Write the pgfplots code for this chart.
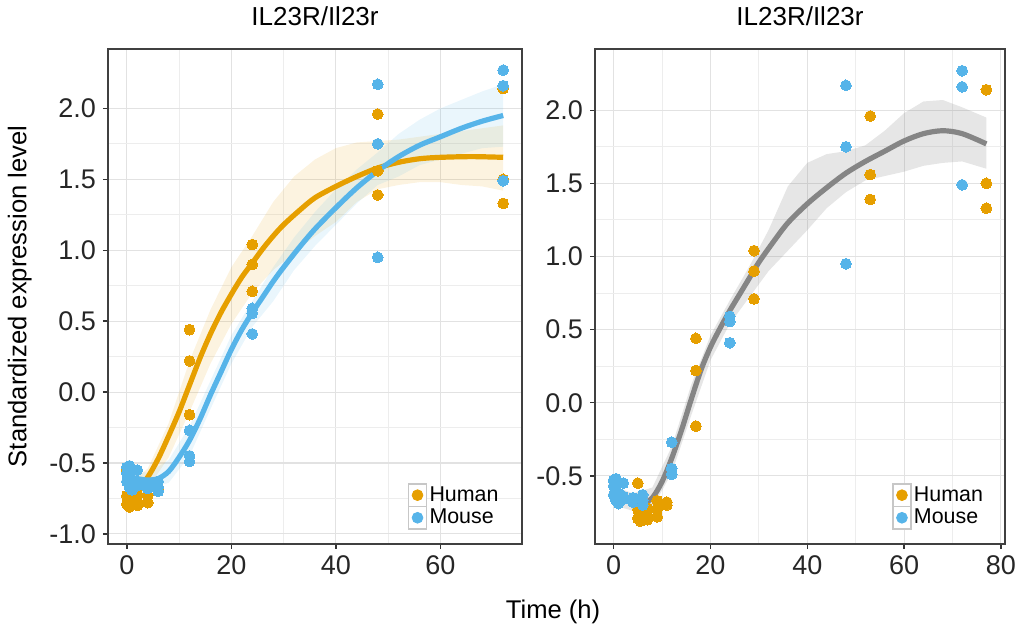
\documentclass[border=0pt]{standalone}
\usepackage{pgfplots}
\usepackage{pgfplotstable}
\pgfplotsset{compat=1.18}
\usepackage{fontspec}
\setmainfont{Liberation Sans}
\definecolor{human}{HTML}{E69F00}
\definecolor{mouse}{HTML}{56B4E9}
\definecolor{smoothgray}{HTML}{858585}
\definecolor{gridmaj}{HTML}{E2E2E2}
\definecolor{gridmin}{HTML}{EDEDED}

\pgfplotstableread{
t y
0 -0.55
0 -0.73
0 -0.79
0.5 -0.75
0.5 -0.81
1 -0.78
1 -0.74
2 -0.77
2 -0.80
2 -0.72
4 -0.73
4 -0.78
4 -0.67
6 -0.68
6 -0.70
12 0.44
12 0.22
12 -0.16
24 1.04
24 0.90
24 0.71
48 1.96
48 1.56
48 1.39
72 2.14
72 1.50
72 1.33
}\human

\pgfplotstableread{
t y
0 -0.53
0 -0.57
0 -0.63
0.5 -0.52
0.5 -0.60
0.5 -0.67
1 -0.55
1 -0.62
1 -0.69
2 -0.55
2 -0.64
2 -0.66
4 -0.65
4 -0.66
4 -0.68
6 -0.63
6 -0.67
6 -0.70
12 -0.27
12 -0.45
12 -0.49
24 0.59
24 0.555
24 0.41
48 2.17
48 1.75
48 0.95
72 2.27
72 2.16
72 1.49
}\mouse

\pgfplotstableread{
t y
5 -0.55
5 -0.73
5 -0.79
5.5 -0.75
5.5 -0.81
6 -0.78
6 -0.74
7 -0.77
7 -0.80
7 -0.72
9 -0.73
9 -0.78
9 -0.67
11 -0.68
11 -0.70
17 0.44
17 0.22
17 -0.16
29 1.04
29 0.90
29 0.71
53 1.96
53 1.56
53 1.39
77 2.14
77 1.50
77 1.33
}\humanshift

\pgfplotsset{
  panel/.style={
    scale only axis,
    height=247.5pt,
    axis line style={draw=black!75, line width=1pt},
    grid=both,
    major grid style={gridmaj, line width=0.55pt},
    minor grid style={gridmin, line width=0.45pt},
    minor x tick num=1,
    minor y tick num=1,
    tick align=outside,
    major tick length=2.5pt,
    minor tick length=0pt,
    tick style={black!80, line width=0.7pt},
    xtick pos=bottom, ytick pos=left,
    ymax=2.42,
    /pgf/number format/assume math mode=true,
    tick label style={font=\fontsize{13.5}{15}\selectfont, text=black!85},
    yticklabel style={/pgf/number format/.cd, fixed, fixed zerofill, precision=1},
    xticklabel style={/pgf/number format/.cd, fixed, precision=0},
    title style={font=\fontsize{13}{15}\selectfont, at={(0.5,1)}, anchor=south, yshift=2pt},
    legend style={draw=none, fill=none, font=\fontsize{10.7}{12}\selectfont,
      inner sep=0pt, row sep=-0.5pt, nodes={inner sep=1.2pt}},
    legend cell align=left,
    clip mode=individual,
  },
  humanpts/.style={only marks, color=human, mark=*, mark size=2.7pt,
     mark options={draw=human, fill=human, line width=0pt},
     legend image code/.code={
     \draw[black!22, line width=0.6pt, fill=white] (0pt,-5.6pt) rectangle (9pt,5.6pt);
     \fill[human] (4.5pt,0pt) circle (2.7pt);}},
  mousepts/.style={only marks, color=mouse, mark=*, mark size=2.7pt,
     mark options={draw=mouse, fill=mouse, line width=0pt},
     legend image code/.code={
     \draw[black!22, line width=0.6pt, fill=white] (0pt,-5.6pt) rectangle (9pt,5.6pt);
     \fill[mouse] (4.5pt,0pt) circle (2.7pt);}},
}

\begin{document}
\begin{tikzpicture}
\path (-54pt,-45.5pt) rectangle (458pt,268.5pt);

% ---------------- left panel ----------------
\begin{axis}[panel,
  at={(0pt,0pt)}, anchor=south west,
  width=207pt,
  xmin=-3.6, xmax=75.6, ymin=-1.07,
  xtick={0,20,40,60},
  ytick={-1,-0.5,0,0.5,1,1.5,2},
  title={IL23R/Il23r},
  ylabel={Standardized expression level},
  ylabel style={font=\fontsize{12.8}{15}\selectfont, at={(axis description cs:-0.213,0.5)}, anchor=center},
  xlabel={Time (h)},
  xlabel style={font=\fontsize{12.8}{15}\selectfont, at={(axis description cs:1.075,-0.137)}, anchor=center},
  legend style={at={(axis description cs:0.95,0.028)}, anchor=south east},
]
% ribbons
\addplot[draw=none, fill=human, fill opacity=0.12, forget plot] coordinates {
(0,-0.66) (4,-0.54) (8,-0.22) (12,0.22) (16,0.58) (20,0.88) (24,1.10) (28,1.34)
(32,1.52) (36,1.64) (40,1.72) (44,1.76) (48,1.77) (52,1.78) (56,1.80) (60,1.82)
(64,1.84) (68,1.86) (72,1.88)
(72,1.42) (68,1.45) (64,1.46) (60,1.48) (56,1.48) (52,1.46) (48,1.43) (44,1.34)
(40,1.20) (36,1.10) (32,0.98) (28,0.86) (24,0.70) (20,0.48) (16,0.20) (12,-0.14)
(8,-0.46) (4,-0.68) (0,-0.80)
} -- cycle;
\addplot[draw=none, fill=mouse, fill opacity=0.12, forget plot] coordinates {
(0,-0.54) (4,-0.57) (8,-0.48) (12,-0.24) (16,0.08) (20,0.40) (24,0.64) (28,0.88)
(32,1.09) (36,1.27) (40,1.43) (44,1.57) (48,1.69) (52,1.82) (56,1.92) (60,2.00)
(64,2.06) (68,2.12) (72,2.17)
(72,1.73) (68,1.72) (64,1.68) (60,1.64) (56,1.60) (52,1.52) (48,1.46) (44,1.33)
(40,1.18) (36,1.03) (32,0.86) (28,0.64) (24,0.46) (20,0.20) (16,-0.12) (12,-0.45)
(8,-0.64) (4,-0.68) (0,-0.66)
} -- cycle;
% smooth curves
\addplot[human, line width=2.6pt, smooth, forget plot] coordinates {
(0,-0.72) (2,-0.69) (4,-0.60) (6,-0.47) (8,-0.31) (10,-0.14) (12,0.05) (14,0.24)
(16,0.41) (18,0.56) (20,0.69) (22,0.81) (24,0.91) (26,1.01) (28,1.10) (30,1.18)
(33,1.28) (36,1.37) (40,1.45) (44,1.52) (48,1.58) (52,1.62) (56,1.645) (60,1.655)
(66,1.66) (72,1.655)
};
\addplot[mouse, line width=2.6pt, smooth, forget plot] coordinates {
(0,-0.59) (2,-0.61) (4,-0.62) (6,-0.61) (8,-0.56) (10,-0.46) (12,-0.34) (14,-0.19)
(16,-0.02) (18,0.14) (20,0.30) (22,0.44) (24,0.56) (26,0.67) (28,0.78) (30,0.88)
(33,1.02) (36,1.15) (40,1.30) (44,1.44) (48,1.56) (52,1.66) (56,1.74) (60,1.80)
(64,1.86) (68,1.91) (72,1.95)
};
% points
\addplot[humanpts] table[x=t, y=y] {\human};
\addlegendentry{Human}
\addplot[mousepts] table[x=t, y=y] {\mouse};
\addlegendentry{Mouse}
\end{axis}

% ---------------- right panel ----------------
\begin{axis}[panel,
  at={(243.5pt,0pt)}, anchor=south west,
  width=205pt,
  xmin=-3.85, xmax=80.85, ymin=-0.965,
  xtick={0,20,40,60,80},
  ytick={-0.5,0,0.5,1,1.5,2},
  title={IL23R/Il23r},
  legend style={at={(axis description cs:0.953,0.028)}, anchor=south east},
]
\addplot[draw=none, fill=black!50, fill opacity=0.2, forget plot] coordinates {
(0,-0.57) (4,-0.62) (8,-0.58) (12,-0.30) (16,0.12) (20,0.46) (24,0.70) (28,0.93)
(32,1.18) (36,1.48) (40,1.64) (44,1.70) (48,1.72) (52,1.76) (56,1.86) (60,1.98)
(64,2.06) (68,2.07) (72,2.02) (77,1.95)
(77,1.60) (72,1.65) (68,1.64) (64,1.62) (60,1.58) (56,1.55) (52,1.52) (48,1.44)
(44,1.33) (40,1.18) (36,1.04) (32,0.90) (28,0.72) (24,0.54) (20,0.29) (16,-0.09)
(12,-0.48) (8,-0.72) (4,-0.74) (0,-0.70)
} -- cycle;
\addplot[smoothgray, line width=2.6pt, smooth, forget plot] coordinates {
(0,-0.63) (2,-0.66) (4,-0.68) (6,-0.69) (8,-0.65) (10,-0.54) (12,-0.38) (14,-0.19)
(16,0.02) (18,0.22) (20,0.38) (22,0.51) (24,0.63) (26,0.74) (28,0.85) (30,0.96)
(33,1.10) (36,1.23) (40,1.36) (44,1.47) (48,1.57) (52,1.65) (56,1.72) (60,1.79)
(64,1.84) (68,1.86) (72,1.84) (77,1.77)
};
\addplot[humanpts] table[x=t, y=y] {\humanshift};
\addlegendentry{Human}
\addplot[mousepts] table[x=t, y=y] {\mouse};
\addlegendentry{Mouse}
\end{axis}
\end{tikzpicture}
\end{document}
